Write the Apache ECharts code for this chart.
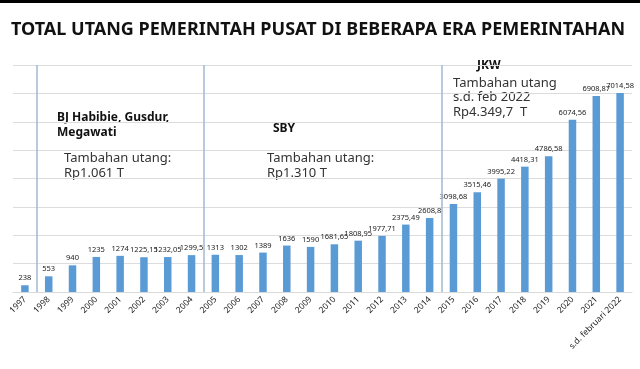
<!DOCTYPE html>
<html>
<head>
<meta charset="utf-8">
<script src="https://cdn.jsdelivr.net/npm/echarts@6/dist/echarts.min.js"></script>
<style>
html,body{margin:0;padding:0;background:#fff;}
#c{width:640px;height:369px;}
</style>
</head>
<body>
<div id="c"></div>
<script>
const titleText = 'TOTAL UTANG PEMERINTAH PUSAT DI BEBERAPA ERA PEMERINTAHAN';
const categories = ['1997','1998','1999','2000','2001','2002','2003','2004','2005','2006','2007','2008','2009','2010','2011','2012','2013','2014','2015','2016','2017','2018','2019','2020','2021','s.d. februari 2022'];
const debtValues = [238,553,940,1235,1274,1225.15,1232.05,1299.5,1313,1302,1389,1636,1590,1681.65,1808.95,1977.71,2375.49,2608.8,3098.68,3515.46,3995.22,4418.31,4786.58,6074.56,6908.87,7014.58];
const eraBoundaries = [1, 8, 18];
const eraNames = ['BJ Habibie, Gusdur,\nMegawati', 'SBY', 'JKW'];
const eraNotes = ['Tambahan utang:\nRp1.061 T', 'Tambahan utang:\nRp1.310 T', 'Tambahan utang\ns.d. feb 2022\nRp4.349,7  T'];

const chart = echarts.init(document.getElementById('c'));
const fmt = v => String(v).replace('.', ',');
chart.setOption({
  animation: false,
  backgroundColor: '#fff',
  grid: {left: 13, right: 8, top: 65, bottom: 77, containLabel: false},
  xAxis: [{
    type: 'category', data: categories,
    axisLine: {show: true, lineStyle: {color: '#d9d9d9'}},
    axisTick: {show: false},
    axisLabel: {interval: 0, rotate: 45, fontSize: 8.5, color: '#222', fontFamily: 'Noto Sans', margin: 6}
  }, {
    type: 'value', min: 0, max: categories.length, show: false
  }],
  yAxis: {
    type: 'value', min: 0, max: 8000, interval: 1000,
    axisLabel: {show: false}, axisLine: {show: false}, axisTick: {show: false},
    splitLine: {lineStyle: {color: '#dcdcdc', width: 1}}
  },
  series: [{
    type: 'bar', data: debtValues, barWidth: 7.5, itemStyle: {color: '#5b9bd5'},
    label: {show: true, position: 'top', fontSize: 7.5, color: '#222', fontFamily: 'Noto Sans', distance: 3, formatter: p => fmt(p.value)}
  }, {
    type: 'line', xAxisIndex: 1, data: [],
    markLine: {symbol: 'none', silent: true, label: {show: false},
      lineStyle: {color: '#9fb8d3', width: 1.5, type: 'solid'},
      data: eraBoundaries.map(b => ({xAxis: b}))}
  }],
  graphic: [
    {type: 'rect', left: 0, top: 0, shape: {width: 640, height: 3}, style: {fill: '#000'}},
    {type: 'text', left: 11, top: 21, style: {text: titleText, font: 'bold 18px "Noto Sans"', fill: '#111'}},
    {type: 'text', left: 57, top: 110, style: {text: eraNames[0], font: 'bold 12px "Noto Sans"', fill: '#111', lineHeight: 15}},
    {type: 'text', left: 64, top: 151, style: {text: eraNotes[0], font: '13px "Noto Sans"', fill: '#333', lineHeight: 15}},
    {type: 'text', left: 273, top: 123, style: {text: eraNames[1], font: 'bold 12px "Noto Sans"', fill: '#111'}},
    {type: 'text', left: 267, top: 151, style: {text: eraNotes[1], font: '13px "Noto Sans"', fill: '#333', lineHeight: 15}},
    {type: 'text', left: 477, top: 60, style: {text: eraNames[2], font: 'bold 12px "Noto Sans"', fill: '#111', backgroundColor: '#fff'}},
    {type: 'text', left: 453, top: 76, style: {text: eraNotes[2], font: '13px "Noto Sans"', fill: '#333', lineHeight: 14.5}}
  ]
});
</script>
</body>
</html>
